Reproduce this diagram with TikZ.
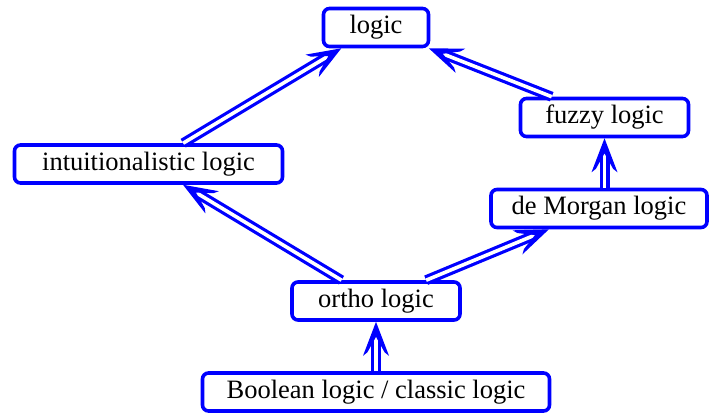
\documentclass[tikz,border=0pt]{standalone}
\usepackage{fontspec}
\setmainfont{Liberation Serif}
\usetikzlibrary{decorations.markings}
\definecolor{lineblue}{RGB}{0,0,255}
\tikzset{
  box/.style={draw=lineblue, line width=3.6pt, rounded corners=6pt, fill=white,
    font=\fontsize{26.5}{30}\selectfont, text height=17pt, text depth=5pt,
    inner ysep=8pt, inner xsep=0pt, align=center},
  impl/.style={draw=lineblue, line width=3.2pt, double=white, double distance=3.6pt,
    shorten >=14pt,
    postaction={draw=none, decorate, decoration={markings,
      mark=at position 1 with {\fill[lineblue] (0pt,0pt) -- (-34pt,13pt) -- (-30.5pt,8.6pt)
        -- (-15pt,0pt) -- (-30.5pt,-8.6pt) -- (-34pt,-13pt) -- cycle;}}}}
}
\begin{document}
\begin{tikzpicture}[x=1pt,y=-1pt]
\useasboundingbox (0,0) rectangle (710,415);
\node[box, minimum width=105pt] (logic) at (376,27.5) {logic};
\node[box, minimum width=168pt] (fuzzy) at (604.5,117.5) {fuzzy logic};
\node[box, minimum width=268pt] (intu) at (148.5,164) {intuitionalistic logic};
\node[box, minimum width=216pt] (demorgan) at (599,208.5) {de Morgan logic};
\node[box, minimum width=168pt] (ortho) at (376,301) {ortho logic};
\node[box, minimum width=347pt] (bool) at (376,392) {Boolean logic / classic logic};
\draw[impl] (intu) -- (logic);
\draw[impl] (fuzzy) -- (logic);
\draw[impl] (ortho) -- (intu);
\draw[impl] (ortho) -- (demorgan);
\draw[impl] (demorgan.north -| fuzzy.south) -- (fuzzy.south);
\draw[impl] (bool) -- (ortho);
\end{tikzpicture}
\end{document}
